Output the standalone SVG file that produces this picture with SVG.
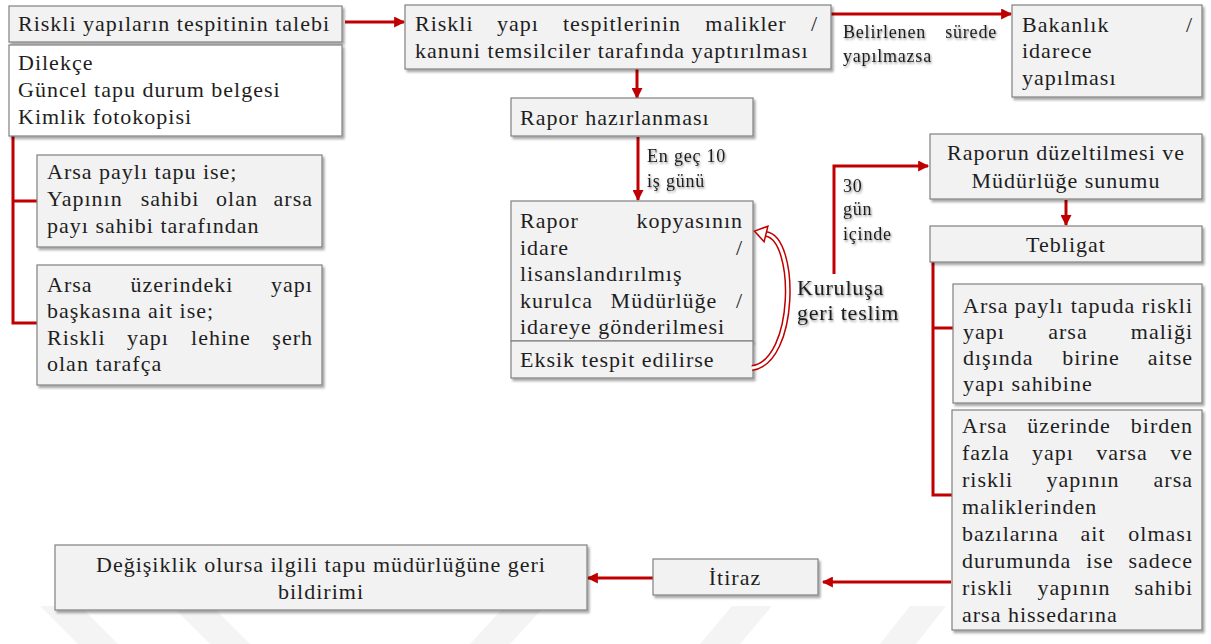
<svg xmlns="http://www.w3.org/2000/svg" width="1211" height="644" viewBox="0 0 1211 644" font-family="Liberation Serif, Times New Roman, serif">
<defs>
<filter id="sh" x="-5%" y="-10%" width="115%" height="130%"><feDropShadow dx="2" dy="2.5" stdDeviation="1.3" flood-color="#000" flood-opacity="0.35"/></filter>
<filter id="tsh" x="-5%" y="-20%" width="115%" height="150%"><feDropShadow dx="1" dy="1.5" stdDeviation="1" flood-color="#000" flood-opacity="0.45"/></filter>
<marker id="ah" viewBox="0 0 10 10" refX="9" refY="5" markerWidth="12" markerHeight="11" markerUnits="userSpaceOnUse" orient="auto"><path d="M0,0 L10,5 L0,10 z" fill="#c00000"/></marker>
</defs>
<style>
.box{fill:#f2f2f2;stroke:#808080;stroke-width:1.2}
.wbox{fill:#ffffff;stroke:#808080;stroke-width:1.2}
.t{font-size:22px;letter-spacing:1px;fill:#1e1e1e}
.lb{font-size:18px;letter-spacing:0.8px;fill:#1e1e1e}
.lg{font-size:22px;letter-spacing:0.8px;fill:#1e1e1e}
.c{stroke:#c00000;stroke-width:3;fill:none}
.m{text-anchor:middle}
.e{text-anchor:end}
.wm{fill:#f4f4f4}
</style>
<rect width="1211" height="644" fill="#ffffff"/>
<g id="watermark">
<polygon class="wm" points="40,606 80,606 118,644 78,644"/>
<polygon class="wm" points="172,606 212,606 250,644 210,644"/>
<polygon class="wm" points="470,644 510,644 545,606 505,606"/>
<polygon class="wm" points="700,644 740,644 772,606 732,606"/>
<polygon class="wm" points="880,644 916,644 946,606 910,606"/>
</g>
<g id="connectors">
<path class="c" d="M345,22 H404" marker-end="url(#ah)"/>
<path class="c" d="M831,14 H1011" marker-end="url(#ah)"/>
<path class="c" d="M637,69 V98" marker-end="url(#ah)"/>
<path class="c" d="M638,137 V200" marker-end="url(#ah)"/>
<path class="c" d="M834,274 V166 H928" marker-end="url(#ah)"/>
<path class="c" d="M1066,200 V225" marker-end="url(#ah)"/>
<path class="c" d="M951,582 H823" marker-end="url(#ah)"/>
<path class="c" d="M653,578 H588" marker-end="url(#ah)"/>
<path class="c" d="M13,136 V323 M11.5,201 H37 M11.5,323 H37"/>
<path class="c" d="M933,262 V495 M931.5,328 H953 M931.5,495 H952"/>
</g>
<g id="n1">
<rect class="box" x="9" y="6" width="333" height="36" filter="url(#sh)"/>
<text class="t" x="18" y="31">Riskli yapıların tespitinin talebi</text>
</g>
<g id="n2">
<rect class="wbox" x="9" y="45" width="333" height="91" filter="url(#sh)"/>
<text class="t" x="18" y="70">Dilekçe</text>
<text class="t" x="18" y="97">Güncel tapu durum belgesi</text>
<text class="t" x="18" y="124">Kimlik fotokopisi</text>
</g>
<g id="n3">
<rect class="box" x="37" y="155" width="285" height="92" filter="url(#sh)"/>
<text class="t" x="47" y="179">Arsa paylı tapu ise;</text>
<text class="t" y="206"><tspan x="47">Yapının</tspan><tspan x="170" class="m">sahibi</tspan><tspan x="237" class="m">olan</tspan><tspan x="313" class="e">arsa</tspan></text>
<text class="t" x="47" y="233">payı sahibi tarafından</text>
</g>
<g id="n4">
<rect class="box" x="37" y="265" width="285" height="120" filter="url(#sh)"/>
<text class="t" y="292"><tspan x="47">Arsa</tspan><tspan x="182" class="m">üzerindeki</tspan><tspan x="313" class="e">yapı</tspan></text>
<text class="t" x="47" y="318">başkasına ait ise;</text>
<text class="t" y="345"><tspan x="47">Riskli</tspan><tspan x="148" class="m">yapı</tspan><tspan x="221" class="m">lehine</tspan><tspan x="313" class="e">şerh</tspan></text>
<text class="t" x="47" y="371">olan tarafça</text>
</g>
<g id="n5">
<rect class="box" x="405" y="5" width="426" height="64" filter="url(#sh)"/>
<text class="t" y="31"><tspan x="415">Riskli</tspan><tspan x="518" class="m">yapı</tspan><tspan x="622" class="m">tespitlerinin</tspan><tspan x="746" class="m">malikler</tspan><tspan x="818" class="e">/</tspan></text>
<text class="t" x="415" y="58">kanuni temsilciler tarafında yaptırılması</text>
</g>
<g id="n6">
<rect class="box" x="1012" y="5" width="190" height="92" filter="url(#sh)"/>
<text class="t" y="32"><tspan x="1022">Bakanlık</tspan><tspan x="1193" class="e">/</tspan></text>
<text class="t" x="1022" y="58">idarece</text>
<text class="t" x="1022" y="85">yapılması</text>
</g>
<g id="l1" filter="url(#tsh)">
<text class="lb" y="38"><tspan x="843">Belirlenen</tspan><tspan x="997" class="e">sürede</tspan></text>
<text class="lb" x="843" y="62">yapılmazsa</text>
</g>
<g id="n7">
<rect class="box" x="511" y="98" width="242" height="38" filter="url(#sh)"/>
<text class="t" x="520" y="125">Rapor hazırlanması</text>
</g>
<g id="l2" filter="url(#tsh)">
<text class="lb" x="647" y="162">En geç 10</text>
<text class="lb" x="647" y="187">iş günü</text>
</g>
<g id="n8">
<rect class="box" x="511" y="201" width="242" height="140" filter="url(#sh)"/>
<text class="t" y="228"><tspan x="520">Rapor</tspan><tspan x="743" class="e">kopyasının</tspan></text>
<text class="t" y="255"><tspan x="520">idare</tspan><tspan x="743" class="e">/</tspan></text>
<text class="t" x="520" y="281">lisanslandırılmış</text>
<text class="t" y="308"><tspan x="520">kurulca</tspan><tspan x="664" class="m">Müdürlüğe</tspan><tspan x="743" class="e">/</tspan></text>
<text class="t" x="520" y="334">idareye gönderilmesi</text>
</g>
<g id="n9">
<rect class="box" x="511" y="341" width="242" height="37" filter="url(#sh)"/>
<text class="t" x="520" y="367">Eksik tespit edilirse</text>
</g>
<g id="loop">
<path d="M752,368 C797,362 797,238 766,234" fill="none" stroke="#c00000" stroke-width="6"/>
<path d="M752,368 C797,362 797,238 766,234" fill="none" stroke="#ffffff" stroke-width="3"/>
<polygon points="754.4,231.1 767.9,226.2 764.1,241.8" fill="#ffffff" stroke="#c00000" stroke-width="1.5"/>
</g>
<g id="l3" filter="url(#tsh)">
<text class="lg" x="797" y="295">Kuruluşa</text>
<text class="lg" x="797" y="320">geri teslim</text>
</g>
<g id="l4" filter="url(#tsh)">
<text class="lb" x="843" y="192">30</text>
<text class="lb" x="843" y="215">gün</text>
<text class="lb" x="843" y="240">içinde</text>
</g>
<g id="n10">
<rect class="box" x="930" y="134" width="272" height="65" filter="url(#sh)"/>
<text class="t m" x="1066" y="160">Raporun düzeltilmesi ve</text>
<text class="t m" x="1066" y="188">Müdürlüğe sunumu</text>
</g>
<g id="n11">
<rect class="box" x="930" y="226" width="272" height="36" filter="url(#sh)"/>
<text class="t m" x="1066" y="252">Tebligat</text>
</g>
<g id="n12">
<rect class="box" x="953" y="284" width="249" height="119" filter="url(#sh)"/>
<text class="t" y="313"><tspan x="963">Arsa</tspan><tspan x="1039" class="m">paylı</tspan><tspan x="1103" class="m">tapuda</tspan><tspan x="1193" class="e">riskli</tspan></text>
<text class="t" y="339"><tspan x="963">yapı</tspan><tspan x="1068" class="m">arsa</tspan><tspan x="1193" class="e">maliği</tspan></text>
<text class="t" y="365"><tspan x="963">dışında</tspan><tspan x="1091" class="m">birine</tspan><tspan x="1193" class="e">aitse</tspan></text>
<text class="t" x="963" y="391">yapı sahibine</text>
</g>
<g id="n13">
<rect class="box" x="952" y="410" width="250" height="220" filter="url(#sh)"/>
<text class="t" y="433"><tspan x="962">Arsa</tspan><tspan x="1069" class="m">üzerinde</tspan><tspan x="1193" class="e">birden</tspan></text>
<text class="t" y="460"><tspan x="962">fazla</tspan><tspan x="1053" class="m">yapı</tspan><tspan x="1122" class="m">varsa</tspan><tspan x="1193" class="e">ve</tspan></text>
<text class="t" y="487"><tspan x="962">riskli</tspan><tspan x="1083" class="m">yapının</tspan><tspan x="1193" class="e">arsa</tspan></text>
<text class="t" x="962" y="514">maliklerinden</text>
<text class="t" y="541"><tspan x="962">bazılarına</tspan><tspan x="1093" class="m">ait</tspan><tspan x="1193" class="e">olması</tspan></text>
<text class="t" y="568"><tspan x="962">durumunda</tspan><tspan x="1100" class="m">ise</tspan><tspan x="1193" class="e">sadece</tspan></text>
<text class="t" y="595"><tspan x="962">riskli</tspan><tspan x="1074" class="m">yapının</tspan><tspan x="1193" class="e">sahibi</tspan></text>
<text class="t" x="962" y="622">arsa hissedarına</text>
</g>
<g id="n14">
<rect class="box" x="653" y="559" width="165" height="36" filter="url(#sh)"/>
<text class="t m" x="735" y="585">İtiraz</text>
</g>
<g id="n15">
<rect class="box" x="55" y="545" width="532" height="65" filter="url(#sh)"/>
<text class="t m" x="321" y="572">Değişiklik olursa ilgili tapu müdürlüğüne geri</text>
<text class="t m" x="321" y="599">bildirimi</text>
</g>
</svg>
